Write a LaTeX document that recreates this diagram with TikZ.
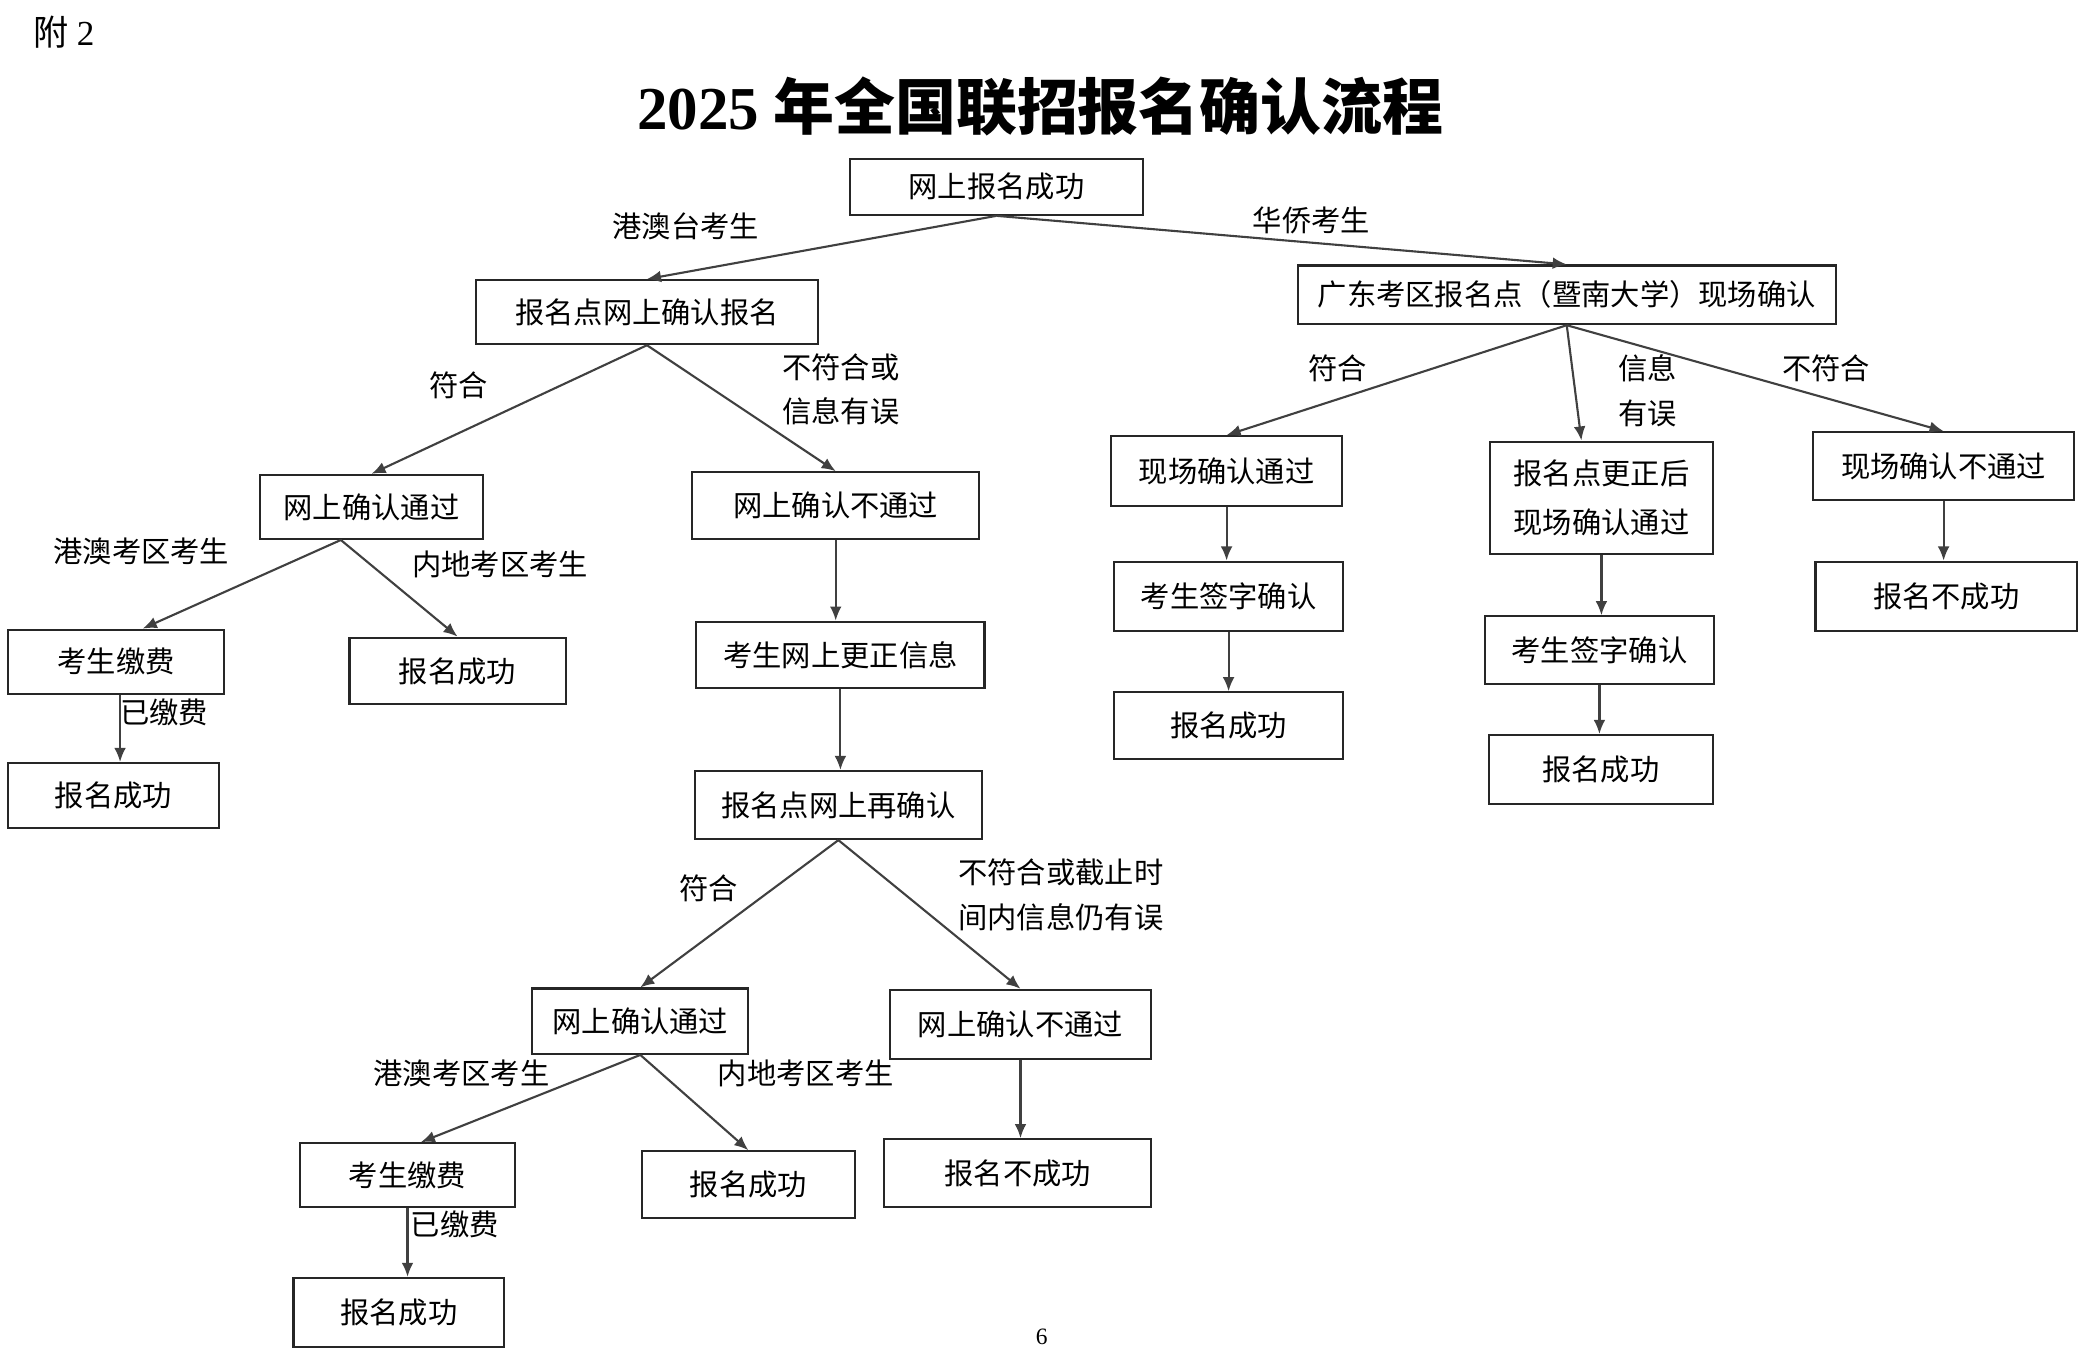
\documentclass[tikz,border=0pt]{standalone}
\usepackage{fontspec}
\setmainfont{Noto Sans CJK SC}
\newfontfamily\latinserif{Liberation Serif}
\usetikzlibrary{arrows.meta,calc}
\tikzset{
 box/.style={draw=black!85,line width=0.9pt,inner sep=0pt,align=center,font=\fontsize{12.5}{21}\selectfont},
 arr/.style={draw=black!75,line width=0.9pt,-{Latex[length=6pt,width=5pt]}},
 lbl/.style={font=\fontsize{12.5}{19}\selectfont,align=left,inner sep=0pt}
}
\newcommand\bx[6]{\node[box,minimum width={(#4-#2)*0.02cm},minimum height={(#5-#3)*0.02cm}] (#1) at ({(#2+#4)/2},{(#3+#5)/2}) {#6};}
\begin{document}
\begin{tikzpicture}[x=0.02cm,y=-0.02cm]
\useasboundingbox (0,0) rectangle (1560,1015);
\node[font=\fontsize{15}{18}\selectfont] (fu) at (48,24) {附 {\latinserif 2}};
\node[font=\fontsize{26}{30}\selectfont\bfseries] (title) at (780,80) {{\latinserif 2025} 年全国联招报名确认流程};
\node[font=\fontsize{10}{12}\selectfont\latinserif] (pg) at (781,1002) {6};
\bx{n1}{637}{119}{857}{161}{网上报名成功}
\bx{n2}{357}{210}{613}{258}{报名点网上确认报名}
\bx{n3}{973}{199}{1376}{243}{广东考区报名点（暨南大学）现场确认}
\bx{n4}{195}{356}{362}{404}{网上确认通过}
\bx{n5}{519}{354}{734}{404}{网上确认不通过}
\bx{n6}{6}{472}{168}{520}{考生缴费}
\bx{n7}{262}{478}{424}{528}{报名成功}
\bx{n8}{6}{572}{164}{621}{报名成功}
\bx{n9}{522}{466}{738}{516}{考生网上更正信息}
\bx{n10}{521}{578}{736}{629}{报名点网上再确认}
\bx{n11}{399}{741}{561}{790}{网上确认通过}
\bx{n12}{667}{742}{863}{794}{网上确认不通过}
\bx{n13}{225}{857}{386}{905}{考生缴费}
\bx{n14}{481}{863}{641}{913}{报名成功}
\bx{n15}{663}{854}{863}{905}{报名不成功}
\bx{n16}{220}{958}{378}{1010}{报名成功}
\bx{n17}{833}{327}{1006}{379}{现场确认通过}
\bx{n18}{835}{421}{1007}{473}{考生签字确认}
\bx{n19}{835}{519}{1007}{569}{报名成功}
\bx{n20}{1117}{331}{1284}{415}{报名点更正后\\现场确认通过}
\bx{n21}{1113}{462}{1285}{513}{考生签字确认}
\bx{n22}{1116}{551}{1284}{603}{报名成功}
\bx{n23}{1359}{324}{1555}{375}{现场确认不通过}
\bx{n24}{1361}{421}{1557}{473}{报名不成功}
% connectors
\draw[arr] (n1.south) -- (n2.north);
\draw[arr] (n1.south) -- (n3.north);
\draw[arr] (n2.south) -- (n4.north);
\draw[arr] (n2.south) -- (n5.north);
\draw[arr] ([xshift=-0.46cm]n4.south) -- ([xshift=0.4cm]n6.north);
\draw[arr] ([xshift=-0.46cm]n4.south) -- (n7.north);
\draw[arr] ([xshift=0.1cm]n8.north|-n6.south) -- ([xshift=0.1cm]n8.north);
\draw[arr] (n5.south) -- (n5.south|-n9.north);
\draw[arr] (n9.south) -- (n9.south|-n10.north);
\draw[arr] (n10.south) -- (n11.north);
\draw[arr] (n10.south) -- (n12.north);
\draw[arr] (n11.south) -- ([xshift=0.2cm]n13.north);
\draw[arr] (n11.south) -- (n14.north);
\draw[arr] (n13.south) -- (n13.south|-n16.north);
\draw[arr] (n12.south) -- (n12.south|-n15.north);
\draw[arr] (n3.south) -- (n17.north);
\draw[arr] (n3.south) -- ([xshift=-0.3cm]n20.north);
\draw[arr] (n3.south) -- (n23.north);
\draw[arr] (n17.south) -- (n17.south|-n18.north);
\draw[arr] (n18.south) -- (n18.south|-n19.north);
\draw[arr] (n20.south) -- (n20.south|-n21.north);
\draw[arr] (n21.south) -- (n21.south|-n22.north);
\draw[arr] (n23.south) -- (n23.south|-n24.north);
% labels
\node[lbl] (l1) at (514,170) {港澳台考生};
\node[lbl] (l2) at (983,165) {华侨考生};
\node[lbl] (l3) at (344,289) {符合};
\node[lbl,anchor=west] (l4) at (586,292) {不符合或\\信息有误};
\node[lbl] (l5) at (1003,276) {符合};
\node[lbl,anchor=west] (l6) at (1213,293) {信息\\有误};
\node[lbl] (l7) at (1369,276) {不符合};
\node[lbl] (l8) at (106,413) {港澳考区考生};
\node[lbl] (l9) at (375,423) {内地考区考生};
\node[lbl] (l10) at (123,534) {已缴费};
\node[lbl] (l11) at (531,666) {符合};
\node[lbl,anchor=west] (l12) at (718,671) {不符合或截止时\\间内信息仍有误};
\node[lbl] (l13) at (346,805) {港澳考区考生};
\node[lbl] (l14) at (604,805) {内地考区考生};
\node[lbl] (l15) at (341,918) {已缴费};
\end{tikzpicture}
\end{document}
